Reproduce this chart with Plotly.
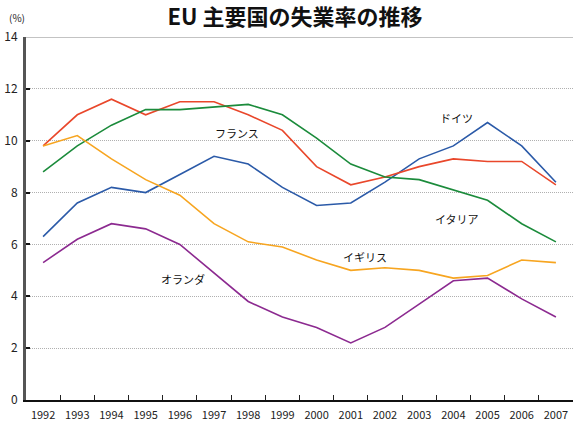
import plotly.graph_objects as go

years = [str(y) for y in range(1992, 2008)]
germany = [6.3, 7.6, 8.2, 8.0, 8.7, 9.4, 9.1, 8.2, 7.5, 7.6, 8.4, 9.3, 9.8, 10.7, 9.8, 8.4]
france = [9.8, 11.0, 11.6, 11.0, 11.5, 11.5, 11.0, 10.4, 9.0, 8.3, 8.6, 9.0, 9.3, 9.2, 9.2, 8.3]
italy = [8.8, 9.8, 10.6, 11.2, 11.2, 11.3, 11.4, 11.0, 10.1, 9.1, 8.6, 8.5, 8.1, 7.7, 6.8, 6.1]
uk = [9.8, 10.2, 9.3, 8.5, 7.9, 6.8, 6.1, 5.9, 5.4, 5.0, 5.1, 5.0, 4.7, 4.8, 5.4, 5.3]
netherlands = [5.3, 6.2, 6.8, 6.6, 6.0, 4.9, 3.8, 3.2, 2.8, 2.2, 2.8, 3.7, 4.6, 4.7, 3.9, 3.2]
y_ticks = [0, 2, 4, 6, 8, 10, 12, 14]

series = [
    ("ドイツ", germany, "#2b5aa8"),
    ("フランス", france, "#e9472b"),
    ("イタリア", italy, "#1b8b3b"),
    ("イギリス", uk, "#f7a520"),
    ("オランダ", netherlands, "#8c2a90"),
]

FONT = "Noto Sans CJK JP"
fig = go.Figure()
for name, vals, col in series:
    fig.add_trace(go.Scatter(x=years, y=vals, mode="lines", name=name,
                             line=dict(color=col, width=1.6), showlegend=False))

# labels (paper coordinates)
labels = [
    ("ドイツ", 456, 118),
    ("フランス", 237, 133),
    ("イタリア", 457, 219),
    ("イギリス", 365, 257),
    ("オランダ", 183, 279),
]
L, R, T, B = 26, 573, 37, 400
for txt, px, py in labels:
    fig.add_annotation(x=(px - L) / (R - L), y=(B - py) / (B - T), xref="paper", yref="paper",
                       text=txt, showarrow=False, font=dict(family=FONT, size=11, color="#111"),
                       xanchor="center", yanchor="middle")

fig.add_annotation(x=(17 - L) / (R - L), y=(B - 17) / (B - T), xref="paper", yref="paper", text="(%)",
                   showarrow=False, font=dict(family=FONT, size=10, color="#222"),
                   xanchor="center", yanchor="middle")

# top border line at 14
fig.add_shape(type="line", xref="paper", yref="y", x0=0, x1=1, y0=14, y1=14,
              line=dict(color="#888", width=1))

fig.update_layout(
    width=573, height=423,
    margin=dict(l=L, r=573 - R, t=T, b=423 - B),
    paper_bgcolor="white", plot_bgcolor="white",
    title=dict(text="<b>EU 主要国の失業率の推移</b>", x=295 / 573, xanchor="center",
               y=1 - 17 / 423, yanchor="middle",
               font=dict(family=FONT, size=22, color="#111")),
    font=dict(family=FONT),
)
fig.update_xaxes(type="category", range=[-0.5, 15.5], tickson="boundaries", ticks="inside",
                 ticklen=5, tickcolor="#222", tickwidth=1, showgrid=False,
                 showline=True, linecolor="#111", linewidth=1.5, ticklabelstandoff=4,
                 tickfont=dict(family=FONT, size=11, color="#222"), tickangle=0, automargin=False)
fig.update_yaxes(range=[0, 14], tickvals=y_ticks, showgrid=True, gridcolor="#b0b0b0",
                 griddash="1px,1px", gridwidth=1, showline=True, linecolor="#555", linewidth=3,
                 zeroline=False, ticks="inside", ticklen=4, tickcolor="#111", tickwidth=1.5,
                 ticklabelstandoff=3,
                 tickfont=dict(family=FONT, size=12, color="#222"),
                 automargin=False)

fig.write_html("out.html", config={"displayModeBar": False},
               post_script="document.body.style.margin='0';")
